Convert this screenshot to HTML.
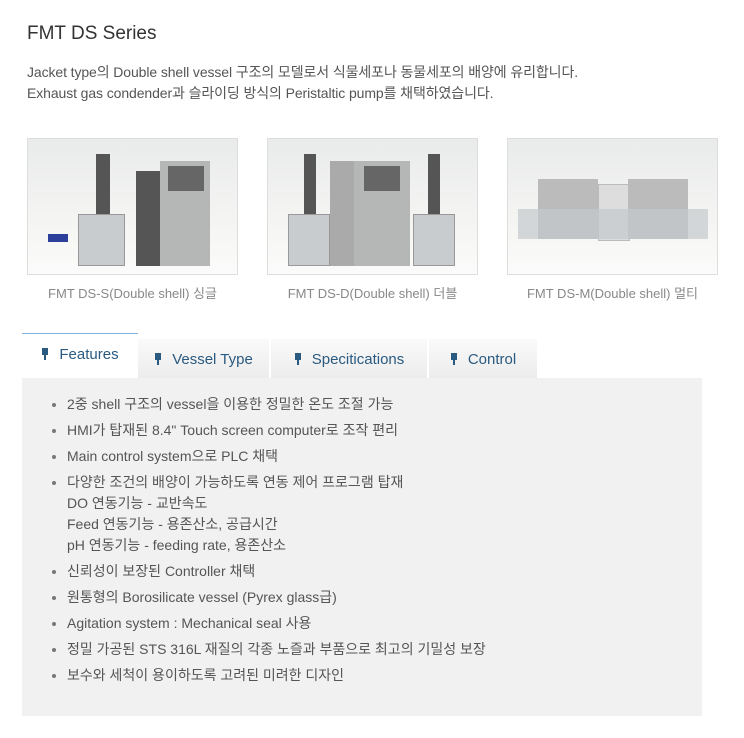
<!DOCTYPE html>
<html><head><meta charset="utf-8"><style>
body{margin:0;width:744px;height:738px;background:#fff;font-family:"Liberation Sans","Noto Sans CJK KR",sans-serif;color:#555;position:relative;overflow:hidden}
.a{position:absolute}
h1{position:absolute;left:27px;top:23px;margin:0;font-weight:normal;font-size:19px;color:#333}
.intro{left:27px;top:62px;font-size:14px;line-height:21px;color:#555;letter-spacing:-0.1px}
.img{position:absolute;top:138px;width:209px;height:135px;border:1px solid #ddd;background:linear-gradient(#e9ebeb,#f6f6f4 70%,#fbfbfb)}
.cap{position:absolute;top:283px;width:211px;text-align:center;font-size:13px;color:#888}
.tab{position:absolute;top:339px;height:39px;background:linear-gradient(#fafafa,#ececec);border-right:2px solid #fff;font-size:15px;color:#2a5a80;line-height:42px;text-align:center}
.pin{display:inline-block;width:8px;height:11px;position:relative;margin-right:10px}
.pin:before{content:"";position:absolute;left:1px;top:0;width:6px;height:7px;background:#2a5a80;border-top:2px solid #2a5a80;box-sizing:border-box}
.pin:after{content:"";position:absolute;left:3px;top:7px;width:2px;height:5px;background:#2a5a80}
.panel{left:22px;top:378px;width:680px;height:338px;background:#f1f1f1}
ul{position:absolute;left:27px;top:16px;margin:0;padding:0 0 0 18px;font-size:14px;color:#555;line-height:21px}
li{margin-bottom:5px}
li::marker{color:#777}
.dev{position:absolute;background:#b9bcbc}
</style></head><body>
<h1>FMT DS Series</h1>
<div class="a intro">Jacket type의 Double shell vessel 구조의 모델로서 식물세포나 동물세포의 배양에 유리합니다.<br>Exhaust gas condender과 슬라이딩 방식의 Peristaltic pump를 채택하였습니다.</div>

<div class="img" style="left:27px">
 <div class="dev" style="left:50px;top:75px;width:45px;height:50px;background:#c8cccf;border:1px solid #999"></div>
 <div class="dev" style="left:68px;top:15px;width:14px;height:60px;background:#555"></div>
 <div class="dev" style="left:20px;top:95px;width:20px;height:8px;background:#2c3f9a"></div>
 <div class="dev" style="left:108px;top:32px;width:24px;height:95px;background:#555"></div>
 <div class="dev" style="left:132px;top:22px;width:50px;height:105px;background:#b5b7b7"></div>
 <div class="dev" style="left:140px;top:27px;width:36px;height:25px;background:#666"></div>
</div>
<div class="img" style="left:267px">
 <div class="dev" style="left:20px;top:75px;width:40px;height:50px;background:#c8cccf;border:1px solid #999"></div>
 <div class="dev" style="left:36px;top:15px;width:12px;height:60px;background:#555"></div>
 <div class="dev" style="left:62px;top:22px;width:24px;height:105px;background:#aaa"></div>
 <div class="dev" style="left:86px;top:22px;width:56px;height:105px;background:#b5b7b7"></div>
 <div class="dev" style="left:96px;top:27px;width:36px;height:25px;background:#666"></div>
 <div class="dev" style="left:145px;top:75px;width:40px;height:50px;background:#c8cccf;border:1px solid #999"></div>
 <div class="dev" style="left:160px;top:15px;width:12px;height:60px;background:#555"></div>
</div>
<div class="img" style="left:507px">
 <div class="dev" style="left:30px;top:40px;width:60px;height:60px;background:#bbb"></div>
 <div class="dev" style="left:90px;top:45px;width:30px;height:55px;background:#ddd;border:1px solid #bbb"></div>
 <div class="dev" style="left:120px;top:40px;width:60px;height:60px;background:#bbb"></div>
 <div class="dev" style="left:10px;top:70px;width:190px;height:30px;background:#c5c9cc;opacity:.7"></div>
</div>
<div class="cap" style="left:27px">FMT DS-S(Double shell) 싱글</div>
<div class="cap" style="left:267px">FMT DS-D(Double shell) 더블</div>
<div class="cap" style="left:507px">FMT DS-M(Double shell) 멀티</div>

<div class="a" style="left:22px;top:333px;width:116px;height:45px;background:#fff;border-top:1px solid #7fb3e0;font-size:15px;color:#2a5a80;line-height:42px;text-align:center"><span class="pin"></span>Features</div>
<div class="tab" style="left:138px;width:131px"><span class="pin"></span>Vessel Type</div>
<div class="tab" style="left:271px;width:156px"><span class="pin"></span>Specitications</div>
<div class="tab" style="left:429px;width:108px;border-right:none"><span class="pin"></span>Control</div>

<div class="a panel"><ul>
<li>2중 shell 구조의 vessel을 이용한 정밀한 온도 조절 가능</li>
<li>HMI가 탑재된 8.4" Touch screen computer로 조작 편리</li>
<li>Main control system으로 PLC 채택</li>
<li>다양한 조건의 배양이 가능하도록 연동 제어 프로그램 탑재<br>DO 연동기능 - 교반속도<br>Feed 연동기능 - 용존산소, 공급시간<br>pH 연동기능 - feeding rate, 용존산소</li>
<li>신뢰성이 보장된 Controller 채택</li>
<li>원통형의 Borosilicate vessel (Pyrex glass급)</li>
<li>Agitation system : Mechanical seal 사용</li>
<li>정밀 가공된 STS 316L 재질의 각종 노즐과 부품으로 최고의 기밀성 보장</li>
<li>보수와 세척이 용이하도록 고려된 미려한 디자인</li>
</ul></div>
</body></html>
